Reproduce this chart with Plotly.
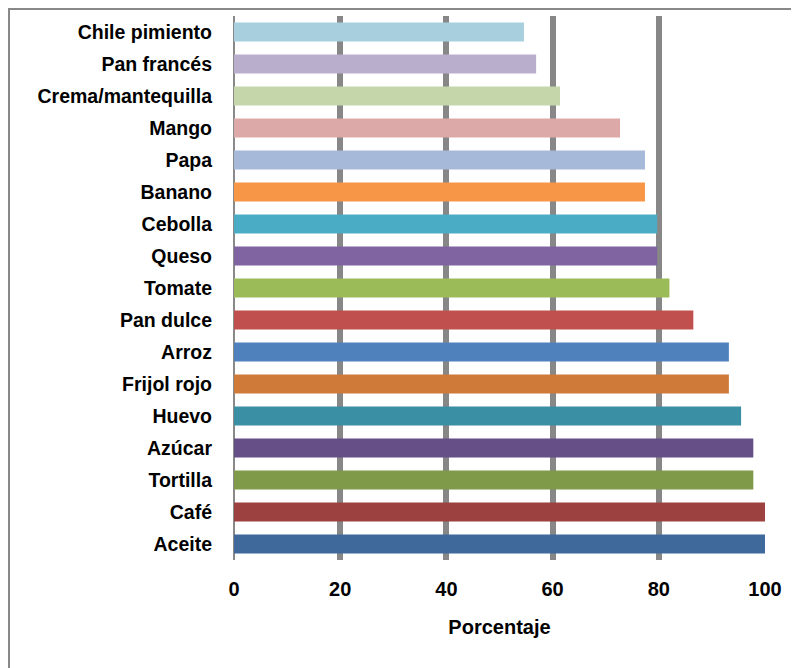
import plotly.graph_objects as go

categories = ["Aceite", "Café", "Tortilla", "Azúcar", "Huevo", "Frijol rojo", "Arroz",
              "Pan dulce", "Tomate", "Queso", "Cebolla", "Banano", "Papa", "Mango",
              "Crema/mantequilla", "Pan francés", "Chile pimiento"]
values = [100, 100, 97.8, 97.8, 95.5, 93.2, 93.2, 86.5, 82, 79.7, 79.7, 77.4, 77.4, 72.7,
          61.4, 56.9, 54.6]
colors = ["#3F689B", "#9C4140", "#7F9A48", "#664F86", "#3A8FA4", "#CF7A38", "#4F81BD",
          "#C0504D", "#9BBB59", "#8064A2", "#4BACC6", "#F79646", "#A7B9D9", "#DCA9A8",
          "#C4D6AA", "#B9AECB", "#A8CFDD"]
x_ticks = [0, 20, 40, 60, 80, 100]

FONT = "Liberation Sans, Arial, sans-serif"

fig = go.Figure(go.Bar(
    y=categories, x=values, orientation="h",
    marker=dict(color=colors, line=dict(width=0)),
    hoverinfo="x+y",
))

W, H = 799, 668
L, R, T, B = 226, 42, 8, 116
pw, ph = W - L - R, H - T - B

fig.update_layout(
    width=W, height=H,
    margin=dict(l=L, r=R, t=T, b=B, autoexpand=False),
    paper_bgcolor="white", plot_bgcolor="white",
    bargap=0.41,
    showlegend=False,
    font=dict(family=FONT, size=20, color="black"),
    xaxis=dict(
        range=[0, 100], tickvals=x_ticks, ticktext=[str(v) for v in x_ticks],
        showgrid=True, gridcolor="#878787", gridwidth=6,
        zeroline=True, zerolinecolor="#8a8a8a", zerolinewidth=2,
        showline=False, ticks="",
        tickfont=dict(family=FONT, size=20, color="black", weight="bold"),
        ticklabelstandoff=15,
        title=dict(text="<b>Porcentaje</b>", font=dict(family=FONT, size=20, color="black"),
                   standoff=20),
        fixedrange=True,
    ),
    yaxis=dict(
        categoryorder="array", categoryarray=categories,
        showgrid=False, zeroline=False, showline=False, ticks="",
        tickfont=dict(family=FONT, size=19.5, color="black", weight="bold"),
        ticklabelstandoff=21,
        range=[-0.5, len(categories) - 0.5],
        fixedrange=True,
    ),
    shapes=[dict(
        type="rect", xref="paper", yref="paper",
        x0=(1 - L) / pw, x1=(W + 20 - L) / pw,
        y0=-(H + 20 - (T + ph)) / ph, y1=(T + ph - 1) / ph,
        line=dict(color="#888888", width=2), fillcolor="rgba(0,0,0,0)", layer="below",
    )],
)

fig.write_html("out.html")
